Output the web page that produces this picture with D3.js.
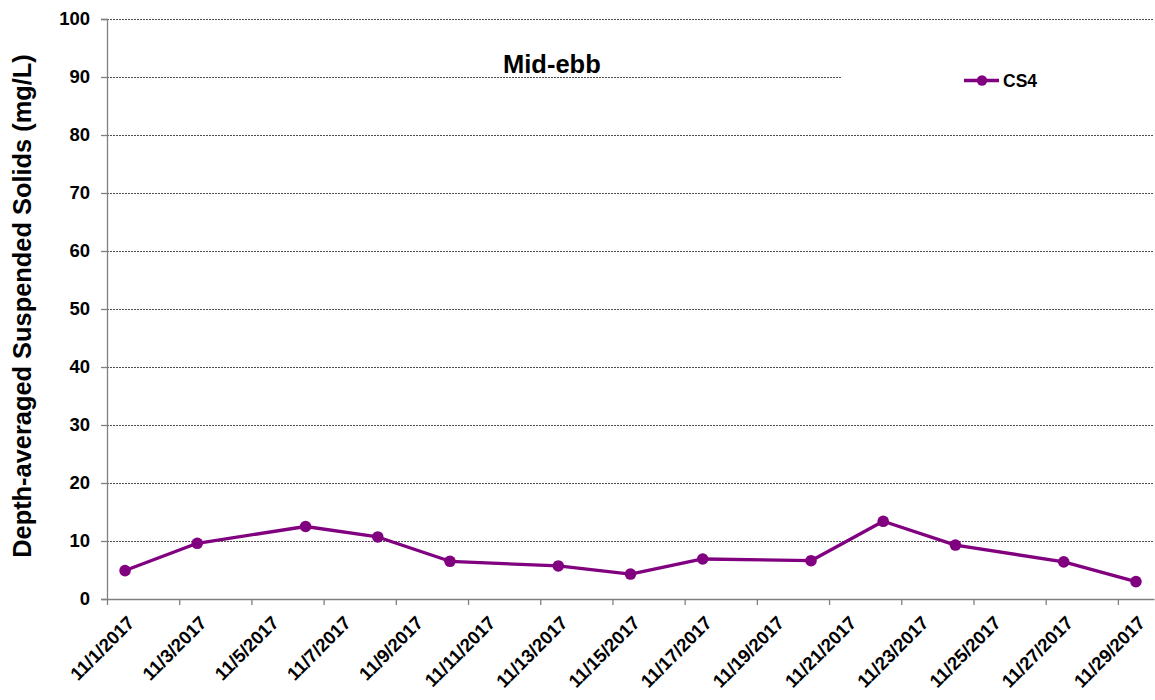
<!DOCTYPE html>
<html>
<head>
<meta charset="utf-8">
<script src="https://cdn.jsdelivr.net/npm/d3@7"></script>
<style>
  html, body { margin: 0; padding: 0; background: #fff; }
  svg { display: block; font-family: "Liberation Sans", Arial, sans-serif; }
</style>
</head>
<body>
<svg id="chart" width="1155" height="700"></svg>
<script>
// ---- data ----
const dates = ["2017-11-01","2017-11-03","2017-11-06","2017-11-08","2017-11-10","2017-11-13","2017-11-15","2017-11-17","2017-11-20","2017-11-22","2017-11-24","2017-11-27","2017-11-29"];
const cs4 = [4.9, 9.6, 12.5, 10.7, 6.5, 5.7, 4.3, 6.9, 6.6, 13.4, 9.3, 6.4, 3.0];
const seriesName = "CS4";
const yTicks = [0, 10, 20, 30, 40, 50, 60, 70, 80, 90, 100];
const xTickDates = ["2017-11-01","2017-11-03","2017-11-05","2017-11-07","2017-11-09","2017-11-11","2017-11-13","2017-11-15","2017-11-17","2017-11-19","2017-11-21","2017-11-23","2017-11-25","2017-11-27","2017-11-29"];
const xTickLabels = ["11/1/2017","11/3/2017","11/5/2017","11/7/2017","11/9/2017","11/11/2017","11/13/2017","11/15/2017","11/17/2017","11/19/2017","11/21/2017","11/23/2017","11/25/2017","11/27/2017","11/29/2017"];
const titleText = "Mid-ebb";
const yLabel = "Depth-averaged Suspended Solids (mg/L)";

// ---- layout ----
const svg = d3.select("#chart");
const mLeft = 107, mRight = 1154, mTop = 19, mBottom = 599;
const purple = "#800080";
const parse = d3.utcParse("%Y-%m-%d");

const x = d3.scaleUtc()
  .domain([parse("2017-11-01"), parse("2017-11-30")])
  .range([mLeft, mRight]);
const y = d3.scaleLinear().domain([0, 100]).range([mBottom, mTop]);

const mid = d => d3.utcHour.offset(parse(d), 12);

// gridlines
svg.append("g").selectAll("line")
  .data(yTicks.filter(v => v > 0))
  .join("line")
  .attr("x1", mLeft).attr("x2", mRight)
  .attr("y1", d => y(d)).attr("y2", d => y(d))
  .attr("stroke", "#4d4d4d").attr("stroke-width", 1)
  .attr("stroke-dasharray", "2,1")
  .attr("shape-rendering", "crispEdges");

// legend box (white, covers part of grid)
svg.append("rect")
  .attr("x", 841).attr("y", 50).attr("width", mRight - 841 + 1).attr("height", 55)
  .attr("fill", "#fff");

// y axis
const yAxis = svg.append("g")
  .attr("transform", `translate(${mLeft},0)`)
  .call(d3.axisLeft(y).tickValues(yTicks).tickSize(6).tickPadding(11));
yAxis.select(".domain").attr("stroke", "#808080").attr("stroke-width", 1.3);
yAxis.selectAll(".tick line").attr("stroke", "#808080").attr("stroke-width", 1.3);
yAxis.selectAll(".tick text")
  .attr("font-family", "Liberation Sans, Arial, sans-serif")
  .attr("font-size", 18.5).attr("font-weight", "bold").attr("fill", "#000");

// x axis
const xAxis = svg.append("g")
  .attr("transform", `translate(0,${mBottom})`)
  .call(d3.axisBottom(x).tickValues(xTickDates.map(parse)).tickSize(6).tickSizeOuter(0).tickFormat(""));
xAxis.select(".domain").attr("stroke", "#808080").attr("stroke-width", 1.3);
xAxis.selectAll(".tick line").attr("stroke", "#808080").attr("stroke-width", 1.3);

svg.append("g").selectAll("text")
  .data(xTickDates)
  .join("text")
  .attr("transform", (d) => `translate(${x(parse(d)) + 28.5},${mBottom + 25}) rotate(-45)`)
  .attr("text-anchor", "end")
  .attr("font-size", 18.5).attr("font-weight", "bold").attr("fill", "#000")
  .text((d, i) => xTickLabels[i]);

// line
const pts = dates.map((d, i) => ({ d: mid(d), v: cs4[i] }));
svg.append("path")
  .datum(pts)
  .attr("fill", "none").attr("stroke", purple).attr("stroke-width", 3.3)
  .attr("stroke-linejoin", "round")
  .attr("d", d3.line().x(p => x(p.d)).y(p => y(p.v)));
svg.append("g").selectAll("circle")
  .data(pts)
  .join("circle")
  .attr("cx", p => x(p.d)).attr("cy", p => y(p.v))
  .attr("r", 5.8).attr("fill", purple);

// title
svg.append("text")
  .attr("x", 503).attr("y", 73)
  .attr("font-size", 25.5).attr("font-weight", "bold").attr("fill", "#000")
  .text(titleText);

// y label
svg.append("text")
  .attr("transform", `translate(31,306) rotate(-90)`)
  .attr("text-anchor", "middle")
  .attr("font-size", 25.4).attr("font-weight", "bold").attr("fill", "#000")
  .text(yLabel);

// legend
svg.append("line")
  .attr("x1", 964).attr("x2", 999).attr("y1", 80.5).attr("y2", 80.5)
  .attr("stroke", purple).attr("stroke-width", 3.3);
svg.append("circle").attr("cx", 982).attr("cy", 80.5).attr("r", 5.2).attr("fill", purple);
svg.append("text")
  .attr("x", 1003).attr("y", 86.5)
  .attr("font-size", 17.5).attr("font-weight", "bold").attr("fill", "#000")
  .text(seriesName);
</script>
</body>
</html>
